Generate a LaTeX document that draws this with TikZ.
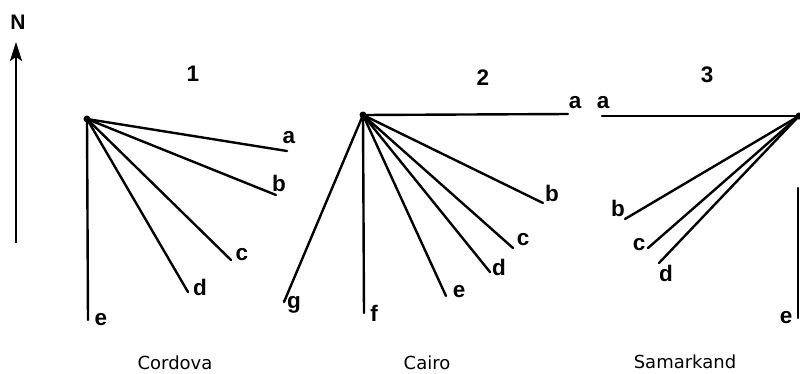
\documentclass[tikz,border=0pt]{standalone}
\usepackage{fontspec}
\setmainfont{Liberation Sans}
\newfontfamily\cityfont{DejaVu Sans}
\usetikzlibrary{arrows.meta}
\begin{document}
\begin{tikzpicture}[x=1pt,y=-1pt,
  ray/.style={line width=2.4pt, line cap=round},
  lbl/.style={inner sep=0pt, font=\fontsize{22.5}{22.5}\selectfont\bfseries},
  num/.style={inner sep=0pt, font=\fontsize{22.5}{22.5}\selectfont\bfseries},
  city/.style={inner sep=0pt, font=\fontsize{18}{18}\selectfont\cityfont},
  ctr/.style={circle, fill=black, inner sep=0pt, minimum size=7pt}]
\useasboundingbox (0,0) rectangle (800,373);

% North arrow
\coordinate (nbot) at (16,243);
\coordinate (ntop) at (16,42);
\draw[line width=2.2pt, -{Stealth[length=19pt,width=12pt,inset=4pt]}] (nbot) -- (ntop);
\node[lbl, font=\fontsize{21}{21}\selectfont\bfseries] (N) at (18,22) {N};

% Panel 1: Cordova
\node[ctr] (c1) at (87,119) {};
\coordinate (e1a) at (287,151);
\coordinate (e1b) at (276,195);
\coordinate (e1c) at (231,260);
\coordinate (e1d) at (188,292);
\coordinate (e1e) at (88,320);
\foreach \p in {a,b,c,d,e} \draw[ray] (c1.center) -- (e1\p);
\node[lbl] (l1a) at (289,138) {a};
\node[lbl] (l1b) at (279,183) {b};
\node[lbl] (l1c) at (242,255) {c};
\node[lbl] (l1d) at (200,287) {d};
\node[lbl] (l1e) at (101,320) {e};
\node[num] (n1) at (193,74) {1};
\node[city] (cordova) at (175,363) {Cordova};

% Panel 2: Cairo
\node[ctr] (c2) at (363,115) {};
\coordinate (e2a) at (568,114);
\coordinate (e2b) at (543,203);
\coordinate (e2c) at (513,248);
\coordinate (e2d) at (490,272);
\coordinate (e2e) at (446,296);
\coordinate (e2f) at (364,313);
\coordinate (e2g) at (284,302);
\foreach \p in {a,b,c,d,e,f,g} \draw[ray] (c2.center) -- (e2\p);
\node[lbl] (l2a) at (575,103) {a};
\node[lbl] (l2b) at (552,193) {b};
\node[lbl] (l2c) at (523,240) {c};
\node[lbl] (l2d) at (499,267) {d};
\node[lbl] (l2e) at (459,292) {e};
\node[lbl] (l2f) at (374,313) {f};
\node[lbl] (l2g) at (294,305) {g};
\node[num] (n2) at (483,78) {2};
\node[city] (cairo) at (427,363) {Cairo};

% Panel 3: Samarkand
\node[ctr] (c3) at (799,116) {};
\coordinate (e3a) at (602,116);
\coordinate (e3b) at (625,219);
\coordinate (e3c) at (648,248);
\coordinate (e3d) at (659,263);
\foreach \p in {a,b,c,d} \draw[ray] (c3.center) -- (e3\p);
\coordinate (e3etop) at (798,188);
\coordinate (e3e) at (798,318);
\draw[ray] (e3etop) -- (e3e);
\node[lbl] (l3a) at (603,103) {a};
\node[lbl] (l3b) at (618,208) {b};
\node[lbl] (l3c) at (639,245) {c};
\node[lbl] (l3d) at (666,273) {d};
\node[lbl] (l3e) at (786,318) {e};
\node[num] (n3) at (707,75) {3};
\node[city] (samarkand) at (685,362) {Samarkand};
\end{tikzpicture}
\end{document}
